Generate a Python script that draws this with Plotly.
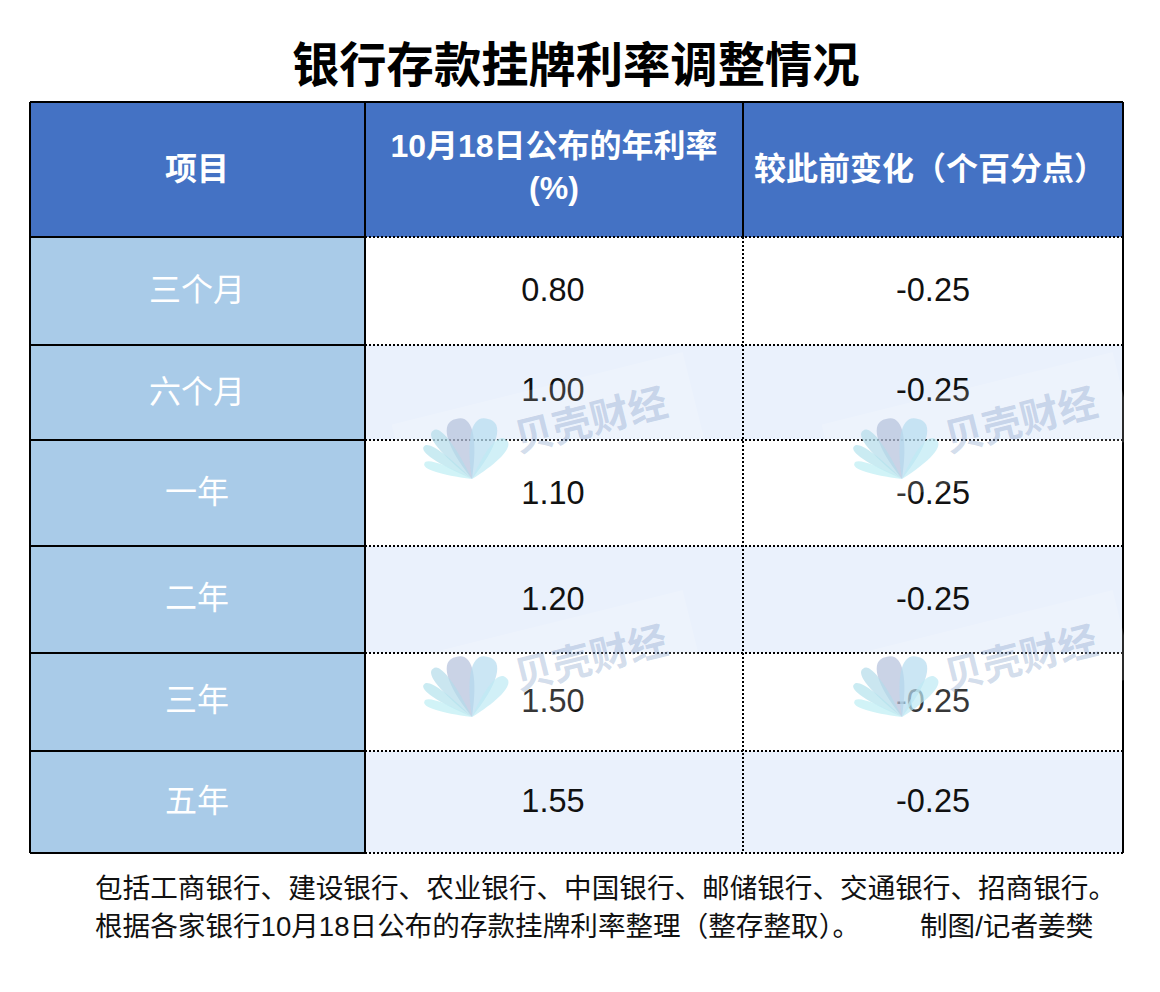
import math
import plotly.graph_objects as go

TITLE = "银行存款挂牌利率调整情况"
HEADERS = ["项目", "10月18日公布的年利率<br>(%)", "较此前变化（个百分点）"]
TERMS = ["三个月", "六个月", "一年", "二年", "三年", "五年"]
RATES = ["0.80", "1.00", "1.10", "1.20", "1.50", "1.55"]
CHANGES = ["-0.25", "-0.25", "-0.25", "-0.25", "-0.25", "-0.25"]
NOTES = ["包括工商银行、建设银行、农业银行、中国银行、邮储银行、交通银行、招商银行。",
         "根据各家银行10月18日公布的存款挂牌利率整理（整存整取）。"]
CREDIT = "制图/记者姜樊"
WATERMARK = "贝壳财经"

# table geometry (pixels of the 1160x992 page)
col_edges = [30, 365, 743, 1123]
row_edges = [102, 237, 345, 440, 546, 653, 751, 853]
header_x = [197, 554, 930]
header_y = [172, 170, 172]
label_y = [293, 395, 495, 601, 703, 804]
value_y = [293, 393, 496, 602, 704, 804]

HEADER_BG = "#4472c4"
LABEL_BG = "#a9cbe8"
SHADE = "#eaf1fc"
WHITE = "#ffffff"
FONT = "Liberation Sans, Noto Sans CJK SC, sans-serif"
CJK = "Noto Sans CJK SC, sans-serif"

fig = go.Figure()

# cell backgrounds as bars on pixel-scaled axes
for c in range(3):
    xs, ys, bases, colors = [], [], [], []
    for r in range(7):
        xs.append((col_edges[c] + col_edges[c + 1]) / 2)
        bases.append(row_edges[r])
        ys.append(row_edges[r + 1] - row_edges[r])
        if r == 0:
            colors.append(HEADER_BG)
        elif c == 0:
            colors.append(LABEL_BG)
        else:
            colors.append(SHADE if r % 2 == 0 else WHITE)
    fig.add_trace(go.Bar(x=xs, y=ys, base=bases, width=col_edges[c + 1] - col_edges[c],
                         marker=dict(color=colors, line=dict(width=0)),
                         showlegend=False, hoverinfo="skip"))


def segs(pairs):
    x, y = [], []
    for (x0, y0, x1, y1) in pairs:
        x += [x0, x1, None]
        y += [y0, y1, None]
    return x, y


L, A, B, R = col_edges
T, H, Bot = row_edges[0], row_edges[1], row_edges[-1]
solid = [(L, T, R, T), (L, T, L, Bot), (A, T, A, Bot), (B, T, B, H), (R, T, R, Bot), (L, Bot, A, Bot)]
solid += [(L, y, A, y) for y in row_edges[1:-1]]
dotted = [(A, y, R, y) for y in row_edges[1:]] + [(B, H, B, Bot)]
x, y = segs(dotted)
fig.add_trace(go.Scatter(x=x, y=y, mode="lines", line=dict(color="#000000", width=2, dash="2px,2px"),
                         showlegend=False, hoverinfo="skip"))
x, y = segs(solid)
fig.add_trace(go.Scatter(x=x, y=y, mode="lines", line=dict(color="#000000", width=2),
                         showlegend=False, hoverinfo="skip"))

# text
fig.add_trace(go.Scatter(x=header_x, y=header_y, mode="text", text=HEADERS,
                         textfont=dict(family=FONT, size=32, color="#ffffff", weight=700),
                         showlegend=False, hoverinfo="skip"))
fig.add_trace(go.Scatter(x=[197] * 6, y=label_y, mode="text", text=TERMS,
                         textfont=dict(family=CJK, size=32, color="#ffffff"),
                         showlegend=False, hoverinfo="skip"))
fig.add_trace(go.Scatter(x=[553] * 6, y=value_y, mode="text", text=RATES,
                         textfont=dict(family=FONT, size=32.5, color="#111111"),
                         showlegend=False, hoverinfo="skip"))
fig.add_trace(go.Scatter(x=[933] * 6, y=value_y, mode="text", text=CHANGES,
                         textfont=dict(family=FONT, size=32.5, color="#111111"),
                         showlegend=False, hoverinfo="skip"))

shapes, annotations = [], []


def petal(ax, ay, angle, length, width, color):
    a = math.radians(angle)
    ux, uy = math.sin(a), -math.cos(a)
    px, py = math.cos(a), math.sin(a)
    tipx, tipy = ax + ux * length, ay + uy * length
    c1 = (ax + ux * length * .62 - px * width, ay + uy * length * .62 - py * width)
    c2 = (ax + ux * length * 1.02 - px * width, ay + uy * length * 1.02 - py * width)
    c3 = (ax + ux * length * 1.02 + px * width, ay + uy * length * 1.02 + py * width)
    c4 = (ax + ux * length * .62 + px * width, ay + uy * length * .62 + py * width)
    path = (f"M{ax:.1f},{ay:.1f} C{c1[0]:.1f},{c1[1]:.1f} {c2[0]:.1f},{c2[1]:.1f} {tipx:.1f},{tipy:.1f} "
            f"C{c3[0]:.1f},{c3[1]:.1f} {c4[0]:.1f},{c4[1]:.1f} {ax:.1f},{ay:.1f} Z")
    return dict(type="path", path=path, xref="x", yref="y", fillcolor=color, opacity=0.7,
                line=dict(width=0), layer="above")


PETALS = [(-15, 62, 17, "#b3c0dc"), (15, 62, 17, "#b5dbf0"), (-39, 62, 9, "#b3dcea"),
          (41, 52, 10, "#bdeaf3"), (-56, 58, 7, "#b3e3ec"), (-72, 50, 6, "#bdeef4")]
for ox in (0, 430):
    for oy in (0, 238):
        ax, ay = 472 + ox, 479 + oy
        # faint light plate behind the mark
        cx, cy = 548 + ox, 432 + oy
        t = math.radians(-14)
        pts = [(-150, -45), (150, -45), (150, 45), (-150, 45)]
        rp = [(cx + p * math.cos(t) - q * math.sin(t), cy + p * math.sin(t) + q * math.cos(t)) for p, q in pts]
        shapes.append(dict(type="path",
                           path="M" + " L".join(f"{a:.1f},{b:.1f}" for a, b in rp) + " Z",
                           xref="x", yref="y", fillcolor="rgba(255,255,255,0.16)",
                           line=dict(width=0), layer="above"))
        for ang, ln, w, col in PETALS:
            shapes.append(petal(ax, ay, ang, ln, w, col))
        annotations.append(dict(x=590 + ox, y=417 + oy, xref="x", yref="y", text=f"<b>{WATERMARK}</b>",
                                showarrow=False, textangle=-14,
                                font=dict(family=CJK, size=39, color="rgba(120,150,195,0.32)")))

annotations.append(dict(x=576, y=61, xref="x", yref="y", text=f"<b>{TITLE}</b>", showarrow=False,
                        font=dict(family=CJK, size=47.3, color="#000000")))
annotations.append(dict(x=93, y=888, xref="x", yref="y", text=NOTES[0], showarrow=False, xanchor="left",
                        font=dict(family=FONT, size=27.6, color="#111111")))
annotations.append(dict(x=93, y=926, xref="x", yref="y", text=NOTES[1], showarrow=False, xanchor="left",
                        font=dict(family=FONT, size=27.6, color="#111111")))
annotations.append(dict(x=918, y=926, xref="x", yref="y", text=CREDIT, showarrow=False, xanchor="left",
                        font=dict(family=FONT, size=27.6, color="#111111")))

fig.update_layout(
    width=1160, height=992, margin=dict(l=0, r=0, t=0, b=0),
    paper_bgcolor="#ffffff", plot_bgcolor="#ffffff",
    barmode="overlay", bargap=0, showlegend=False,
    xaxis=dict(range=[0, 1160], visible=False, fixedrange=True),
    yaxis=dict(range=[992, 0], visible=False, fixedrange=True),
    shapes=shapes, annotations=annotations,
)
fig.write_html("out.html", config=dict(displayModeBar=False),
               post_script="document.body.style.margin='0';document.body.style.overflow='hidden';")
